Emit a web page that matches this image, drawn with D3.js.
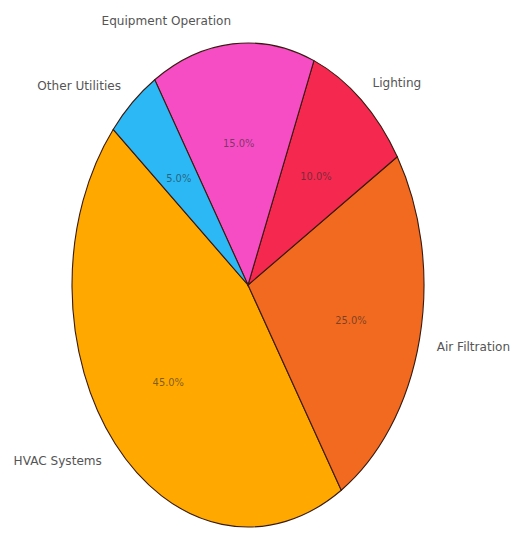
<!DOCTYPE html>
<html>
<head>
<meta charset="utf-8">
<script src="https://cdn.jsdelivr.net/npm/d3@7"></script>
<style>
  html, body { margin: 0; padding: 0; background: #fff; }
  svg { display: block; }
</style>
</head>
<body>
<div id="chart"></div>
<script>
// slice data, in drawing order (counterclockwise from start angle)
var categories = ["HVAC Systems", "Air Filtration", "Lighting", "Equipment Operation", "Other Utilities"];
var shares = [45, 25, 10, 15, 5];
var sliceColors = ["#FFA800", "#F26A1F", "#F5294F", "#F74DC4", "#2BB8F5"];

var width = 512, height = 535;
var cx = 248, cy = 285;
var ry = 242, rx = 176;          // pie is squeezed horizontally
var sx = rx / ry;
var textScale = 0.93;

var svg = d3.select("#chart").append("svg")
    .attr("width", width)
    .attr("height", height);

// matplotlib-like: startangle 140deg, counterclockwise
var deg = Math.PI / 180;
var start = (90 - 140) * deg;
var pie = d3.pie().sort(null).value(function(d) { return d; })
    .startAngle(start).endAngle(start - 2 * Math.PI);
var arcs = pie(shares);

var arc = d3.arc().innerRadius(0).outerRadius(ry);

var g = svg.append("g")
    .attr("transform", "translate(" + cx + "," + cy + ") scale(" + sx + ",1)");

g.selectAll("path.slice")
    .data(arcs)
    .enter().append("path")
    .attr("class", "slice")
    .attr("d", arc)
    .attr("fill", function(d, i) { return sliceColors[i]; })
    .attr("stroke", "#3a1a10")
    .attr("stroke-width", 1.1)
    .attr("vector-effect", "non-scaling-stroke");

function pos(d, k) {
    var a = (d.startAngle + d.endAngle) / 2;
    return [cx + Math.sin(a) * rx * k, cy - Math.cos(a) * ry * k];
}

// outer labels
svg.selectAll("text.label")
    .data(arcs)
    .enter().append("text")
    .attr("class", "label")
    .attr("transform", function(d) {
        var p = pos(d, 1.1);
        return "translate(" + p[0] + "," + (p[1] + 1) + ") scale(" + textScale + ",1)";
    })
    .attr("text-anchor", function(d) { return pos(d, 1.1)[0] < cx ? "end" : "start"; })
    .attr("dominant-baseline", "central")
    .style("font-family", "DejaVu Sans")
    .style("font-size", "13px")
    .style("fill", "#555")
    .text(function(d, i) { return categories[i]; });

// percent labels
var total = d3.sum(shares);
svg.selectAll("text.pct")
    .data(arcs)
    .enter().append("text")
    .attr("class", "pct")
    .attr("transform", function(d) {
        var p = pos(d, 0.6);
        return "translate(" + p[0] + "," + (p[1] + 2) + ") scale(0.9,1)";
    })
    .attr("text-anchor", "middle")
    .attr("dominant-baseline", "central")
    .style("font-family", "DejaVu Sans")
    .style("font-size", "11px")
    .style("fill", "rgba(40,40,40,0.6)")
    .text(function(d) { return (d.value / total * 100).toFixed(1) + "%"; });
</script>
</body>
</html>
